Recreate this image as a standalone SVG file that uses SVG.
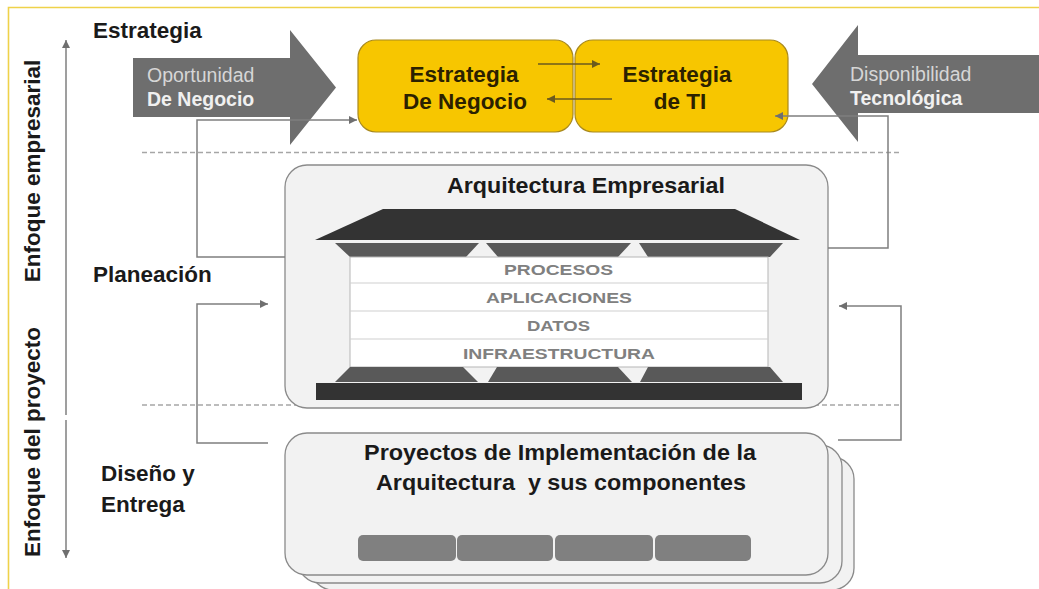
<svg xmlns="http://www.w3.org/2000/svg" width="1039" height="589" viewBox="0 0 1039 589">
<style>
  .lbl{font-family:"Liberation Sans",Arial,sans-serif;font-weight:bold;font-size:22.5px;fill:#1a1a1a}
  .ybox{fill:#f7c600;stroke:#a8891e;stroke-width:1.2}
  .ytxt{font-family:"Liberation Sans",Arial,sans-serif;font-weight:bold;font-size:22.5px;fill:#2b2100;text-anchor:middle}
  .bigarrow{fill:#6e6e6e}
  .atxt{font-family:"Liberation Sans",Arial,sans-serif;font-size:19.5px;fill:#d6d6d6}
  .atxtb{font-family:"Liberation Sans",Arial,sans-serif;font-size:19.5px;font-weight:bold;fill:#f0f0f0}
  .panel{fill:#f2f2f2;stroke:#8a8a8a;stroke-width:1.3}
  .conn{fill:none;stroke:#7f7f7f;stroke-width:1.5}
  .dash{fill:none;stroke:#a6a6a6;stroke-width:1.6;stroke-dasharray:5 3}
  .row{font-family:"Liberation Sans",Arial,sans-serif;font-weight:bold;font-size:15px;fill:#808080;text-anchor:middle}
  .dark{fill:#333333}
  .mid{fill:#595959}
  .comp{fill:#808080}
</style>
<defs>
  <marker id="ag" viewBox="0 0 10 10" refX="10" refY="5" markerWidth="9" markerHeight="8" markerUnits="userSpaceOnUse" orient="auto">
    <path d="M0,0 L10,5 L0,10 z" fill="#6f6f6f"/>
  </marker>
  <marker id="ab" viewBox="0 0 10 10" refX="10" refY="5" markerWidth="9" markerHeight="8" markerUnits="userSpaceOnUse" orient="auto">
    <path d="M0,0 L10,5 L0,10 z" fill="#6b5a1e"/>
  </marker>
</defs>
<rect width="1039" height="589" fill="#ffffff"/>
<!-- frame -->
<path d="M8.5 589 V7.5 H1039" fill="none" stroke="#efd24a" stroke-width="1.6"/>

<!-- side axis -->
<g id="axis">
  <line x1="66" y1="415" x2="66" y2="40" class="conn" marker-end="url(#ag)"/>
  <line x1="66" y1="420" x2="66" y2="558" class="conn" marker-end="url(#ag)"/>
  <text class="lbl" font-size="23.5" text-anchor="middle" transform="translate(40,171) rotate(-90)">Enfoque empresarial</text>
  <text class="lbl" font-size="23.5" text-anchor="middle" transform="translate(40,442) rotate(-90)">Enfoque del proyecto</text>
</g>

<!-- phase labels -->
<g id="phases">
  <text class="lbl" x="93" y="38">Estrategia</text>
  <text class="lbl" x="93" y="282">Planeación</text>
  <text class="lbl" x="101" y="481">Diseño y</text>
  <text class="lbl" x="101" y="512">Entrega</text>
</g>

<!-- dashed separators -->
<g id="separators">
  <line x1="142" y1="152.5" x2="899" y2="152.5" class="dash"/>
  <line x1="142" y1="405" x2="899" y2="405" class="dash"/>
</g>

<!-- big arrows -->
<g id="oportunidad">
  <polygon class="bigarrow" points="133,58 290,58 290,30 336,87.5 290,145 290,117 133,117"/>
  <text class="atxt" x="147" y="82">Oportunidad</text>
  <text class="atxtb" x="147" y="106">De Negocio</text>
</g>
<g id="disponibilidad">
  <polygon class="bigarrow" points="1039,55 858,55 858,25 812,84 858,142 858,113 1039,113"/>
  <text class="atxt" x="850" y="81">Disponibilidad</text>
  <text class="atxtb" x="850" y="105">Tecnológica</text>
</g>

<!-- yellow boxes -->
<g id="estrategia-negocio">
  <rect class="ybox" x="358" y="40" width="215" height="92" rx="18"/>
  <text class="ytxt" x="464" y="82">Estrategia</text>
  <text class="ytxt" x="465" y="109">De Negocio</text>
</g>
<g id="estrategia-ti">
  <rect class="ybox" x="575" y="40" width="213" height="92" rx="18"/>
  <text class="ytxt" x="677" y="82">Estrategia</text>
  <text class="ytxt" x="680" y="109">de TI</text>
</g>

<!-- architecture -->
<g id="arquitectura">
  <rect class="panel" x="285" y="165" width="543" height="243" rx="22"/>
  <text class="lbl" x="586" y="193" text-anchor="middle" font-size="23" textLength="278" lengthAdjust="spacingAndGlyphs">Arquitectura Empresarial</text>
  <polygon class="dark" points="383,209 735,209 800,240 315,240"/>
  <polygon class="mid" points="335,243 479,243 466,257 350,257"/>
  <polygon class="mid" points="486,243 631,243 618,257 498,257"/>
  <polygon class="mid" points="639,243 783,243 770,257 648,257"/>
  <rect x="350" y="257" width="418" height="110" fill="#ffffff" stroke="#b5b5b5" stroke-width="1"/>
  <line x1="350" y1="283" x2="768" y2="283" stroke="#cfcfcf" stroke-width="1.2"/>
  <line x1="350" y1="311" x2="768" y2="311" stroke="#cfcfcf" stroke-width="1.2"/>
  <line x1="350" y1="339" x2="768" y2="339" stroke="#cfcfcf" stroke-width="1.2"/>
  <text class="row" x="558.5" y="275" textLength="109" lengthAdjust="spacingAndGlyphs">PROCESOS</text>
  <text class="row" x="559" y="302.5" textLength="146" lengthAdjust="spacingAndGlyphs">APLICACIONES</text>
  <text class="row" x="558.5" y="330.5" textLength="63" lengthAdjust="spacingAndGlyphs">DATOS</text>
  <text class="row" x="559" y="358.5" textLength="192" lengthAdjust="spacingAndGlyphs">INFRAESTRUCTURA</text>
  <polygon class="mid" points="350,367 463,367 478,382 335,382"/>
  <polygon class="mid" points="497,367 618,367 632,382 488,382"/>
  <polygon class="mid" points="648,367 770,367 783,382 640,382"/>
  <rect class="dark" x="316" y="383" width="486" height="17"/>
</g>

<!-- projects -->
<g id="proyectos">
  <rect class="panel" x="311" y="457" width="543" height="133" rx="22"/>
  <rect class="panel" x="298" y="445" width="544" height="138" rx="22"/>
  <rect class="panel" x="285" y="433" width="543" height="142" rx="22"/>
  <text class="lbl" x="560" y="460" text-anchor="middle" font-size="24" textLength="392" lengthAdjust="spacingAndGlyphs">Proyectos de Implementación de la</text>
  <text class="lbl" x="561" y="490" text-anchor="middle" font-size="24" xml:space="preserve" textLength="370" lengthAdjust="spacingAndGlyphs">Arquitectura  y sus componentes</text>
  <rect class="comp" x="358" y="535" width="98" height="26" rx="5"/>
  <rect class="comp" x="457" y="535" width="96" height="26" rx="5"/>
  <rect class="comp" x="555" y="535" width="98" height="26" rx="5"/>
  <rect class="comp" x="655" y="535" width="96" height="26" rx="5"/>
</g>

<!-- connectors -->
<g id="connectors">
  <line x1="538" y1="64" x2="600" y2="64" stroke="#6b5a1e" stroke-width="1.5" marker-end="url(#ab)"/>
  <line x1="612" y1="99" x2="547" y2="99" stroke="#6b5a1e" stroke-width="1.5" marker-end="url(#ab)"/>
  <path class="conn" d="M285 257 H197 V120 H357" marker-end="url(#ag)"/>
  <path class="conn" d="M828 248 H888 V116 H775" marker-end="url(#ag)"/>
  <path class="conn" d="M268 443 H197 V304 H268" marker-end="url(#ag)"/>
  <path class="conn" d="M838 440 H901 V306 H839" marker-end="url(#ag)"/>
</g>
</svg>
